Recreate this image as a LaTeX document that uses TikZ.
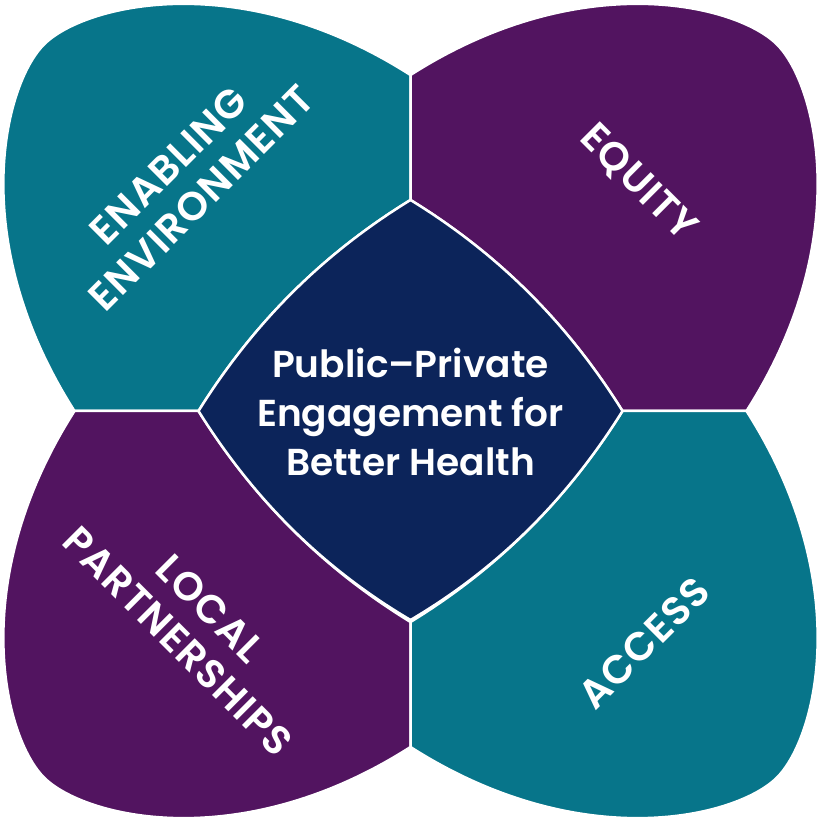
\documentclass[tikz,border=0pt]{standalone}
\usepackage{fontspec}
\newfontfamily\popsb{Poppins SemiBold}
\newfontfamily\popsbwide{Poppins SemiBold}[LetterSpace=3]
\definecolor{petalteal}{HTML}{07758A}
\definecolor{petalpurple}{HTML}{521460}
\definecolor{corenavy}{HTML}{0C245A}
\newcommand\petalshape[2]{%
  \path[petal,fill=#1,#2] (-336,0) .. controls (-445,170.5) and (-406.5,326.5) .. (-366.5,366.5)
    .. controls (-326.5,406.5) and (-170.5,445) .. (0,336) -- (0,211)
    .. controls (-88,157) and (-157,88) .. (-212,0) -- cycle;}
\begin{document}
\begin{tikzpicture}[x=1pt,y=1pt,
  petal/.style={draw=white,line width=2.5pt,line join=round},
  petallabel/.style={text=white,font=\popsbwide\fontsize{40}{46}\selectfont,align=center,inner sep=0pt},
  corelabel/.style={text=white,font=\popsb\fontsize{37.5}{49}\selectfont,align=center,inner sep=0pt}]
\useasboundingbox (0,0) rectangle (821,822);
\coordinate (C) at (410.5,411);
\petalshape{petalteal}{shift={(C)}}
\petalshape{petalpurple}{shift={(C)},xscale=-1}
\petalshape{petalpurple}{shift={(C)},yscale=-1}
\petalshape{petalteal}{shift={(C)},xscale=-1,yscale=-1}
\path[draw=white,line width=2.5pt,fill=corenavy,shift={(C)}]
  (0,211) .. controls (-88,157) and (-157,88) .. (-212,0)
  .. controls (-157,-88) and (-88,-157) .. (0,-209)
  .. controls (88,-157) and (157,-88) .. (212,0)
  .. controls (157,88) and (88,157) .. cycle;
\node[corelabel] (core) at (410.5,410) {Public–Private\\Engagement for\\Better Health};
\node[petallabel,rotate=45] (enabling) at (185,640) {ENABLING\\ENVIRONMENT};
\node[petallabel,rotate=-45] (equity) at (638,639) {EQUITY};
\node[petallabel,rotate=45] (access) at (644,179) {ACCESS};
\node[petallabel,rotate=-45] (local) at (194,197) {LOCAL\\PARTNERSHIPS};
\end{tikzpicture}
\end{document}
